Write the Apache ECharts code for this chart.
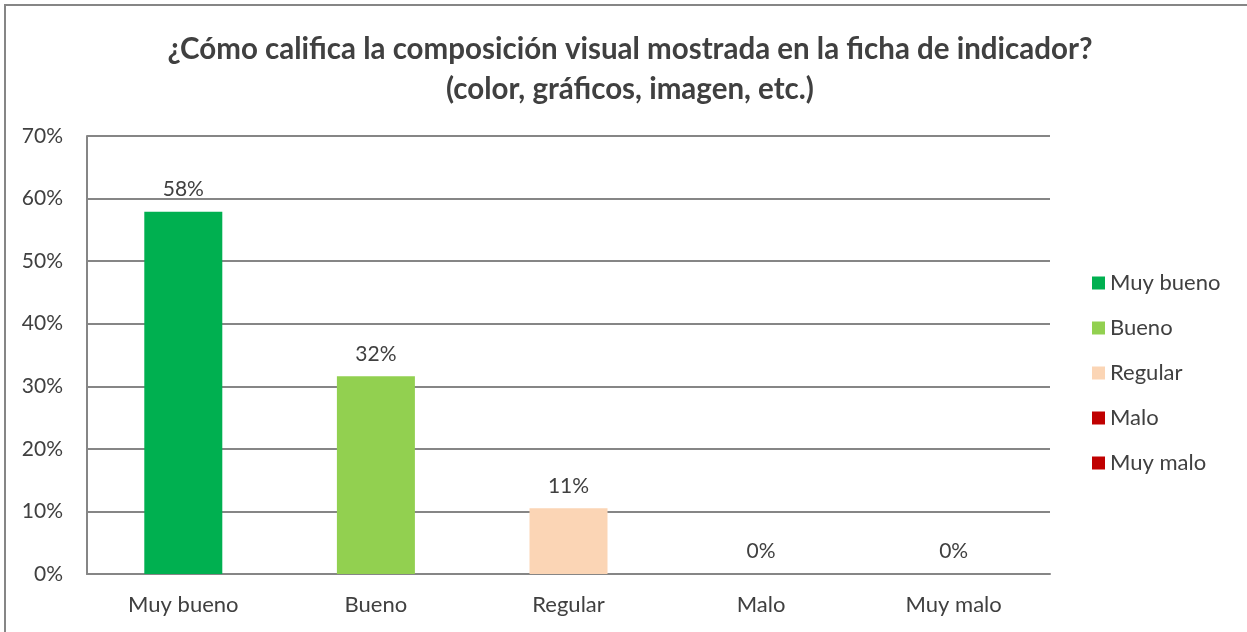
<!DOCTYPE html>
<html>
<head>
<meta charset="utf-8">
<script src="https://cdn.jsdelivr.net/npm/echarts@6/dist/echarts.min.js"></script>
<style>
  html, body { margin: 0; padding: 0; background: #fff; }
  #chart { width: 1247px; height: 632px; }
</style>
</head>
<body>
<div id="chart"></div>
<script>
const categories = ['Muy bueno', 'Bueno', 'Regular', 'Malo', 'Muy malo'];
const shares = [0.579, 0.316, 0.105, 0, 0];
const colors = ['#00b050', '#92d050', '#fbd5b5', '#c00000', '#c00000'];
const yTicks = [0, 0.1, 0.2, 0.3, 0.4, 0.5, 0.6, 0.7];

const font = 'Lato, "Open Sans", sans-serif';
const textColor = '#404040';
const lineColor = '#868686';

// one series per category so the legend lists each category
const series = categories.map((name, i) => ({
    name: name,
    type: 'bar',
    stack: 'all',
    barWidth: 78,
    itemStyle: { color: colors[i] },
    label: {
        show: true,
        position: 'top',
        distance: 12,
        color: textColor,
        fontFamily: font,
        fontSize: 21,
        formatter: (p) => Math.round(p.value * 100) + '%'
    },
    data: categories.map((c, j) => (j === i ? shares[i] : '-'))
}));

const chart = echarts.init(document.getElementById('chart'), null, { renderer: 'canvas' });

chart.setOption({
    animation: false,
    backgroundColor: '#fff',
    title: {
        text: '¿Cómo califica la composición visual mostrada en la ficha de indicador?\n(color, gráficos, imagen, etc.)',
        left: 625,
        top: 24,
        textAlign: 'center',
        textStyle: {
            fontFamily: font,
            fontSize: 29.5,
            fontWeight: 'bold',
            color: textColor,
            lineHeight: 40
        }
    },
    legend: {
        orient: 'vertical',
        left: 1087,
        top: 267,
        itemWidth: 13,
        itemHeight: 13,
        itemGap: 23,
        icon: 'rect',
        textStyle: { fontFamily: font, fontSize: 22, color: textColor },
        data: categories
    },
    grid: { left: 87, right: 197, top: 136, bottom: 58 },
    xAxis: {
        type: 'category',
        data: categories,
        axisLine: { lineStyle: { color: lineColor, width: 2 } },
        axisTick: { show: false },
        axisLabel: { fontFamily: font, fontSize: 22, color: textColor, margin: 20 }
    },
    yAxis: {
        type: 'value',
        min: yTicks[0],
        max: yTicks[yTicks.length - 1],
        interval: 0.1,
        axisLine: { show: true, lineStyle: { color: lineColor, width: 2 } },
        axisTick: { show: false },
        splitLine: { lineStyle: { color: lineColor, width: 2 } },
        axisLabel: {
            fontFamily: font,
            fontSize: 21,
            color: textColor,
            margin: 24,
            formatter: (v) => Math.round(v * 100) + '%'
        }
    },
    graphic: [{
        type: 'rect',
        shape: { x: 5, y: 5, width: 1260, height: 650 },
        style: { fill: 'none', stroke: lineColor, lineWidth: 2 },
        silent: true
    }],
    series: series
});
</script>
</body>
</html>
